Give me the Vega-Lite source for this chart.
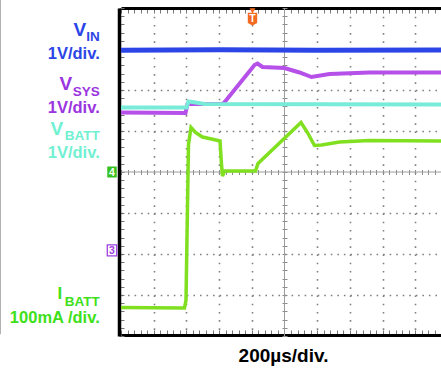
{
  "$schema": "https://vega.github.io/schema/vega-lite/v6.json",
  "width": 320,
  "height": 328,
  "autosize": {"type": "none"},
  "padding": {"left": 121, "top": 8, "right": 0, "bottom": 32},
  "background": "white",
  "config": {"view": {"stroke": null}, "text": {"font": "Liberation Sans", "fontWeight": "bold"}},
  "resolve": {"scale": {"x": "shared", "y": "shared"}, "axis": {"x": "independent", "y": "independent"}},
  "data": {"values": [{}]},
  "datasets": {
    "vin": [{"t": -5, "v": 2.97}, {"t": -2, "v": 2.98}, {"t": 1, "v": 2.97}, {"t": 4.786, "v": 2.975}],
    "vsys": [
      {"t": -5, "v": 1.451}, {"t": -3.028, "v": 1.439}, {"t": -2.966, "v": 1.659}, {"t": -1.927, "v": 1.659},
      {"t": -1.865, "v": 1.671}, {"t": -0.917, "v": 2.61}, {"t": -0.826, "v": 2.646}, {"t": -0.673, "v": 2.561},
      {"t": 0, "v": 2.537}, {"t": 0.459, "v": 2.427}, {"t": 0.826, "v": 2.317}, {"t": 1.376, "v": 2.39},
      {"t": 2.599, "v": 2.427}, {"t": 4.786, "v": 2.427}
    ],
    "vbatt": [
      {"t": -5, "v": 1.573}, {"t": -2.997, "v": 1.573}, {"t": -2.936, "v": 1.72}, {"t": -2.813, "v": 1.707},
      {"t": -2.446, "v": 1.659}, {"t": 4.786, "v": 1.646}
    ],
    "ibatt": [
      {"t": -5, "v": -3.305}, {"t": -3.058, "v": -3.317}, {"t": -3.012, "v": -3.122}, {"t": -2.936, "v": 0.671},
      {"t": -2.859, "v": 1.085}, {"t": -2.722, "v": 0.963}, {"t": -2.508, "v": 0.854}, {"t": -2.232, "v": 0.805},
      {"t": -1.972, "v": 0.756}, {"t": -1.927, "v": 0.183}, {"t": -1.896, "v": -0.098}, {"t": -1.835, "v": 0.024},
      {"t": -0.887, "v": 0.024}, {"t": -0.81, "v": 0.207}, {"t": 0.505, "v": 1.207}, {"t": 0.703, "v": 0.963},
      {"t": 0.917, "v": 0.646}, {"t": 1.131, "v": 0.659}, {"t": 1.682, "v": 0.732}, {"t": 2.599, "v": 0.768},
      {"t": 4.786, "v": 0.756}
    ]
  },
  "layer": [
    {
      "mark": {"type": "rule", "color": "#9a9a9a", "strokeWidth": 1.5},
      "encoding": {
        "x": {"datum": -8.7, "type": "quantitative", "scale": {"domain": [-5, 4.786], "nice": false, "zero": false}, "axis": null},
        "y": {"datum": 4.21, "type": "quantitative", "scale": {"domain": [-4, 4], "nice": false, "zero": false}, "axis": null},
        "y2": {"datum": -3.96}
      }
    },
    {
      "mark": {"type": "rule", "color": "#9c9c9c", "strokeWidth": 1},
      "encoding": {
        "x": {"datum": 0, "type": "quantitative", "scale": {"domain": [-5, 4.786], "nice": false, "zero": false}, "axis": null}
      }
    },
    {
      "mark": {"type": "rule", "color": "#9c9c9c", "strokeWidth": 1},
      "encoding": {
        "y": {"datum": 0, "type": "quantitative", "scale": {"domain": [-4, 4], "nice": false, "zero": false}, "axis": null}
      }
    },
    {
      "data": {"name": "vin"},
      "mark": {"type": "line", "color": "#2b45e6", "strokeWidth": 5},
      "encoding": {
        "x": {"field": "t", "type": "quantitative", "scale": {"domain": [-5, 4.786], "nice": false, "zero": false},
          "axis": {"orient": "bottom", "values": [-4, -3, -2, -1, 1, 2, 3, 4], "grid": true, "gridColor": "#808080", "gridOpacity": 1, "gridWidth": 1.6, "gridDash": [1.6, 6.6], "domain": false, "ticks": false, "labels": false, "title": null}},
        "y": {"field": "v", "type": "quantitative", "scale": {"domain": [-4, 4], "nice": false, "zero": false},
          "axis": {"orient": "left", "values": [-3, -2, -1, 1, 2, 3], "grid": true, "gridColor": "#808080", "gridOpacity": 1, "gridWidth": 1.6, "gridDash": [1.6, 4.94], "domain": false, "ticks": false, "labels": false, "title": null}}
      }
    },
    {
      "data": {"name": "vsys"},
      "mark": {"type": "line", "color": "#b550e8", "strokeWidth": 4},
      "encoding": {
        "x": {"field": "t", "type": "quantitative", "scale": {"domain": [-5, 4.786], "nice": false, "zero": false},
          "axis": {"orient": "bottom", "offset": -1, "values": [-5, -4.8, -4.6, -4.4, -4.2, -4, -3.8, -3.6, -3.4, -3.2, -3, -2.8, -2.6, -2.4, -2.2, -2, -1.8, -1.6, -1.4, -1.2, -1, -0.8, -0.6, -0.4, -0.2, 0, 0.2, 0.4, 0.6, 0.8, 1, 1.2, 1.4, 1.6, 1.8, 2, 2.2, 2.4, 2.6, 2.8, 3, 3.2, 3.4, 3.6, 3.8, 4, 4.2, 4.4, 4.6],
            "grid": false, "domain": true, "domainColor": "#000000", "domainWidth": 3, "ticks": true, "tickSize": -5, "tickColor": "#777777", "tickWidth": 1, "labels": false,
            "title": "200µs/div.", "titleFont": "Liberation Sans", "titleFontSize": 19, "titleFontWeight": "bold", "titleColor": "#000000", "titleBaseline": "alphabetic", "titleY": 26.5, "titleX": 162}},
        "y": {"field": "v", "type": "quantitative", "scale": {"domain": [-4, 4], "nice": false, "zero": false},
          "axis": {"orient": "left", "offset": 2, "values": [-4, -3.8, -3.6, -3.4, -3.2, -3, -2.8, -2.6, -2.4, -2.2, -2, -1.8, -1.6, -1.4, -1.2, -1, -0.8, -0.6, -0.4, -0.2, 0, 0.2, 0.4, 0.6, 0.8, 1, 1.2, 1.4, 1.6, 1.8, 2, 2.2, 2.4, 2.6, 2.8, 3, 3.2, 3.4, 3.6, 3.8, 4],
            "grid": false, "domain": true, "domainColor": "#000000", "domainWidth": 3.5, "ticks": true, "tickSize": -5, "tickColor": "#777777", "tickWidth": 1, "labels": false, "title": null}}
      }
    },
    {
      "data": {"name": "vbatt"},
      "mark": {"type": "line", "color": "#78ecd8", "strokeWidth": 4},
      "encoding": {
        "x": {"field": "t", "type": "quantitative", "scale": {"domain": [-5, 4.786], "nice": false, "zero": false},
          "axis": {"orient": "top", "values": [-5, -4.8, -4.6, -4.4, -4.2, -4, -3.8, -3.6, -3.4, -3.2, -3, -2.8, -2.6, -2.4, -2.2, -2, -1.8, -1.6, -1.4, -1.2, -1, -0.8, -0.6, -0.4, -0.2, 0, 0.2, 0.4, 0.6, 0.8, 1, 1.2, 1.4, 1.6, 1.8, 2, 2.2, 2.4, 2.6, 2.8, 3, 3.2, 3.4, 3.6, 3.8, 4, 4.2, 4.4, 4.6],
            "grid": false, "domain": true, "domainColor": "#000000", "domainWidth": 3, "ticks": true, "tickSize": -5, "tickColor": "#777777", "tickWidth": 1, "labels": false, "title": null}},
        "y": {"field": "v", "type": "quantitative", "scale": {"domain": [-4, 4], "nice": false, "zero": false},
          "axis": {"orient": "left", "offset": -166, "values": [-4, -3.8, -3.6, -3.4, -3.2, -3, -2.8, -2.6, -2.4, -2.2, -2, -1.8, -1.6, -1.4, -1.2, -1, -0.8, -0.6, -0.4, -0.2, 0, 0.2, 0.4, 0.6, 0.8, 1, 1.2, 1.4, 1.6, 1.8, 2, 2.2, 2.4, 2.6, 2.8, 3, 3.2, 3.4, 3.6, 3.8, 4],
            "grid": false, "domain": false, "ticks": true, "tickSize": 5, "tickColor": "#8a8a8a", "tickWidth": 1, "labels": false, "title": null}}
      }
    },
    {
      "data": {"name": "ibatt"},
      "mark": {"type": "line", "color": "#80e020", "strokeWidth": 3.5},
      "encoding": {
        "x": {"field": "t", "type": "quantitative", "scale": {"domain": [-5, 4.786], "nice": false, "zero": false},
          "axis": {"orient": "bottom", "offset": -166.5, "values": [-5, -4.8, -4.6, -4.4, -4.2, -4, -3.8, -3.6, -3.4, -3.2, -3, -2.8, -2.6, -2.4, -2.2, -2, -1.8, -1.6, -1.4, -1.2, -1, -0.8, -0.6, -0.4, -0.2, 0, 0.2, 0.4, 0.6, 0.8, 1, 1.2, 1.4, 1.6, 1.8, 2, 2.2, 2.4, 2.6, 2.8, 3, 3.2, 3.4, 3.6, 3.8, 4, 4.2, 4.4, 4.6],
            "grid": false, "domain": false, "ticks": true, "tickSize": 5, "tickColor": "#8a8a8a", "tickWidth": 1, "labels": false, "title": null}},
        "y": {"field": "v", "type": "quantitative", "scale": {"domain": [-4, 4], "nice": false, "zero": false}, "axis": null}
      }
    },
    {
      "mark": {"type": "text", "text": "V", "align": "right", "baseline": "alphabetic", "fontSize": 19, "color": "#2b45e6", "dx": -13.5},
      "encoding": {
        "x": {"datum": -5.65, "type": "quantitative", "scale": {"domain": [-5, 4.786], "nice": false, "zero": false}, "axis": null},
        "y": {"datum": 3.317, "type": "quantitative", "scale": {"domain": [-4, 4], "nice": false, "zero": false}, "axis": null}
      }
    },
    {
      "mark": {"type": "text", "text": "IN", "align": "right", "baseline": "alphabetic", "fontSize": 13.5, "color": "#2b45e6"},
      "encoding": {
        "x": {"datum": -5.65, "type": "quantitative", "scale": {"domain": [-5, 4.786], "nice": false, "zero": false}, "axis": null},
        "y": {"datum": 3.195, "type": "quantitative", "scale": {"domain": [-4, 4], "nice": false, "zero": false}, "axis": null}
      }
    },
    {
      "mark": {"type": "text", "text": "1V/div.", "align": "right", "baseline": "alphabetic", "fontSize": 16.5, "color": "#2b45e6"},
      "encoding": {
        "x": {"datum": -5.65, "type": "quantitative", "scale": {"domain": [-5, 4.786], "nice": false, "zero": false}, "axis": null},
        "y": {"datum": 2.768, "type": "quantitative", "scale": {"domain": [-4, 4], "nice": false, "zero": false}, "axis": null}
      }
    },
    {
      "mark": {"type": "text", "text": "V", "align": "right", "baseline": "alphabetic", "fontSize": 19, "color": "#9a35e0", "dx": -27.5},
      "encoding": {
        "x": {"datum": -5.65, "type": "quantitative", "scale": {"domain": [-5, 4.786], "nice": false, "zero": false}, "axis": null},
        "y": {"datum": 2.0, "type": "quantitative", "scale": {"domain": [-4, 4], "nice": false, "zero": false}, "axis": null}
      }
    },
    {
      "mark": {"type": "text", "text": "SYS", "align": "right", "baseline": "alphabetic", "fontSize": 13.5, "color": "#9a35e0"},
      "encoding": {
        "x": {"datum": -5.65, "type": "quantitative", "scale": {"domain": [-5, 4.786], "nice": false, "zero": false}, "axis": null},
        "y": {"datum": 1.854, "type": "quantitative", "scale": {"domain": [-4, 4], "nice": false, "zero": false}, "axis": null}
      }
    },
    {
      "mark": {"type": "text", "text": "1V/div.", "align": "right", "baseline": "alphabetic", "fontSize": 16.5, "color": "#9a35e0"},
      "encoding": {
        "x": {"datum": -5.65, "type": "quantitative", "scale": {"domain": [-5, 4.786], "nice": false, "zero": false}, "axis": null},
        "y": {"datum": 1.451, "type": "quantitative", "scale": {"domain": [-4, 4], "nice": false, "zero": false}, "axis": null}
      }
    },
    {
      "mark": {"type": "text", "text": "V", "align": "right", "baseline": "alphabetic", "fontSize": 19, "color": "#72f0d2", "dx": -36.5},
      "encoding": {
        "x": {"datum": -5.65, "type": "quantitative", "scale": {"domain": [-5, 4.786], "nice": false, "zero": false}, "axis": null},
        "y": {"datum": 0.905, "type": "quantitative", "scale": {"domain": [-4, 4], "nice": false, "zero": false}, "axis": null}
      }
    },
    {
      "mark": {"type": "text", "text": "BATT", "align": "right", "baseline": "alphabetic", "fontSize": 13.5, "color": "#72f0d2"},
      "encoding": {
        "x": {"datum": -5.65, "type": "quantitative", "scale": {"domain": [-5, 4.786], "nice": false, "zero": false}, "axis": null},
        "y": {"datum": 0.78, "type": "quantitative", "scale": {"domain": [-4, 4], "nice": false, "zero": false}, "axis": null}
      }
    },
    {
      "mark": {"type": "text", "text": "1V/div.", "align": "right", "baseline": "alphabetic", "fontSize": 16.5, "color": "#72f0d2"},
      "encoding": {
        "x": {"datum": -5.65, "type": "quantitative", "scale": {"domain": [-5, 4.786], "nice": false, "zero": false}, "axis": null},
        "y": {"datum": 0.345, "type": "quantitative", "scale": {"domain": [-4, 4], "nice": false, "zero": false}, "axis": null}
      }
    },
    {
      "mark": {"type": "text", "text": "I", "align": "right", "baseline": "alphabetic", "fontSize": 17, "color": "#3ee01a", "dx": -37.5},
      "encoding": {
        "x": {"datum": -5.65, "type": "quantitative", "scale": {"domain": [-5, 4.786], "nice": false, "zero": false}, "axis": null},
        "y": {"datum": -3.098, "type": "quantitative", "scale": {"domain": [-4, 4], "nice": false, "zero": false}, "axis": null}
      }
    },
    {
      "mark": {"type": "text", "text": "BATT", "align": "right", "baseline": "alphabetic", "fontSize": 13.5, "color": "#3ee01a"},
      "encoding": {
        "x": {"datum": -5.65, "type": "quantitative", "scale": {"domain": [-5, 4.786], "nice": false, "zero": false}, "axis": null},
        "y": {"datum": -3.28, "type": "quantitative", "scale": {"domain": [-4, 4], "nice": false, "zero": false}, "axis": null}
      }
    },
    {
      "mark": {"type": "text", "text": "100mA /div.", "align": "right", "baseline": "alphabetic", "fontSize": 16.5, "color": "#3ee01a"},
      "encoding": {
        "x": {"datum": -5.65, "type": "quantitative", "scale": {"domain": [-5, 4.786], "nice": false, "zero": false}, "axis": null},
        "y": {"datum": -3.683, "type": "quantitative", "scale": {"domain": [-4, 4], "nice": false, "zero": false}, "axis": null}
      }
    },
    {
      "mark": {"type": "point", "shape": "M-0.86,-1H0.86V1H-0.86Z", "size": 121, "filled": true, "color": "#35c21e", "opacity": 1},
      "encoding": {
        "x": {"datum": -5.275, "type": "quantitative", "scale": {"domain": [-5, 4.786], "nice": false, "zero": false}, "axis": null},
        "y": {"datum": 0, "type": "quantitative", "scale": {"domain": [-4, 4], "nice": false, "zero": false}, "axis": null}
      }
    },
    {
      "mark": {"type": "text", "text": "4", "align": "center", "baseline": "middle", "fontSize": 10.5, "color": "#ffffff", "dy": 0.5},
      "encoding": {
        "x": {"datum": -5.275, "type": "quantitative", "scale": {"domain": [-5, 4.786], "nice": false, "zero": false}, "axis": null},
        "y": {"datum": 0, "type": "quantitative", "scale": {"domain": [-4, 4], "nice": false, "zero": false}, "axis": null}
      }
    },
    {
      "mark": {"type": "point", "shape": "M-0.86,-1H0.86V1H-0.86Z", "size": 121, "filled": true, "fill": "#ffffff", "stroke": "#a040e0", "strokeWidth": 1.3, "opacity": 1},
      "encoding": {
        "x": {"datum": -5.275, "type": "quantitative", "scale": {"domain": [-5, 4.786], "nice": false, "zero": false}, "axis": null},
        "y": {"datum": -1.91, "type": "quantitative", "scale": {"domain": [-4, 4], "nice": false, "zero": false}, "axis": null}
      }
    },
    {
      "mark": {"type": "text", "text": "3", "align": "center", "baseline": "middle", "fontSize": 10.5, "color": "#a040e0", "dy": 0.5},
      "encoding": {
        "x": {"datum": -5.275, "type": "quantitative", "scale": {"domain": [-5, 4.786], "nice": false, "zero": false}, "axis": null},
        "y": {"datum": -1.91, "type": "quantitative", "scale": {"domain": [-4, 4], "nice": false, "zero": false}, "axis": null}
      }
    },
    {
      "mark": {"type": "point", "shape": "triangle-down", "size": 35, "filled": true, "color": "#f36a21", "opacity": 1},
      "encoding": {
        "x": {"datum": -0.979, "type": "quantitative", "scale": {"domain": [-5, 4.786], "nice": false, "zero": false}, "axis": null},
        "y": {"datum": 3.93, "type": "quantitative", "scale": {"domain": [-4, 4], "nice": false, "zero": false}, "axis": null}
      }
    },
    {
      "mark": {"type": "point", "shape": "M-0.74,-1H0.74V0.6L0,1L-0.74,0.6Z", "size": 161, "filled": true, "color": "#f36a21", "opacity": 1},
      "encoding": {
        "x": {"datum": -0.979, "type": "quantitative", "scale": {"domain": [-5, 4.786], "nice": false, "zero": false}, "axis": null},
        "y": {"datum": 3.73, "type": "quantitative", "scale": {"domain": [-4, 4], "nice": false, "zero": false}, "axis": null}
      }
    },
    {
      "mark": {"type": "text", "text": "T", "align": "center", "baseline": "middle", "fontSize": 10.5, "color": "#ffffff", "dy": 0},
      "encoding": {
        "x": {"datum": -0.979, "type": "quantitative", "scale": {"domain": [-5, 4.786], "nice": false, "zero": false}, "axis": null},
        "y": {"datum": 3.73, "type": "quantitative", "scale": {"domain": [-4, 4], "nice": false, "zero": false}, "axis": null}
      }
    }
  ]
}
